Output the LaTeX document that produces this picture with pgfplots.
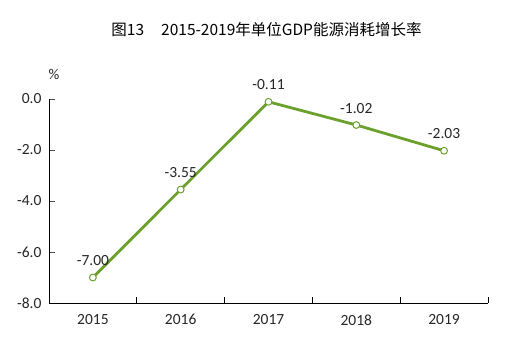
\documentclass[border=0pt]{standalone}
\usepackage{pgfplots}
\pgfplotsset{compat=1.18}
\usepackage{fontspec}
\setmainfont{Carlito}
\newfontfamily\cjk{Noto Sans CJK SC}
\definecolor{lgreen}{RGB}{108,160,44}
\begin{document}
\begin{tikzpicture}
\useasboundingbox (-49bp,-53bp) rectangle (472bp,303bp);
\begin{axis}[
  at={(0,0)}, anchor=south west,
  scale only axis=true,
  width=439bp, height=204bp,
  axis lines*=left,
  axis line style={black, line width=0.8bp},
  xmin=-0.5, xmax=4.5,
  ymin=-8, ymax=0,
  xtick={0,1,2,3,4},
  xticklabels={2015,2016,2017,2018,2019},
  major x tick style={draw=none},
  minor xtick={-0.5,0.5,1.5,2.5,3.5,4.5},
  minor tick length=6bp,
  minor x tick style={black, line width=0.8bp},
  ytick={-8,-6,-4,-2,0},
  yticklabels={-8.0,-6.0,-4.0,-2.0,0.0},
  major tick length=6bp,
  y tick style={black!70, line width=0.8bp},
  tick align=inside,
  ticklabel style={font=\fontsize{15.5bp}{17bp}\selectfont, text=black!85},
  yticklabel style={xshift=-4bp},
  xticklabel style={yshift=-8bp},
  clip=false,
  nodes near coords,
  point meta=explicit symbolic,
  every node near coord/.append style={font=\fontsize{15.5bp}{17bp}\selectfont, text=black!85, yshift=8bp},
]
\addplot[color=lgreen, line width=2.8bp, mark=*, mark size=3.4bp,
  mark options={fill=white, draw=lgreen, line width=1bp}]
  coordinates {(0,-7.00)[-7.00] (1,-3.55)[-3.55] (2,-0.11)[-0.11] (3,-1.02)[-1.02] (4,-2.03)[-2.03]};
\node[font=\fontsize{15bp}{17bp}\selectfont, text=black!85] at (rel axis cs:0,1) [xshift=5bp, yshift=25bp] {\%};
\node[font=\cjk\fontsize{15.5bp}{17bp}\selectfont, text=black] at (rel axis cs:0.5,1) [xshift=-2bp, yshift=69bp] {图13\hspace{1.1em}2015-2019年单位GDP能源消耗增长率};
\end{axis}
\end{tikzpicture}
\end{document}
